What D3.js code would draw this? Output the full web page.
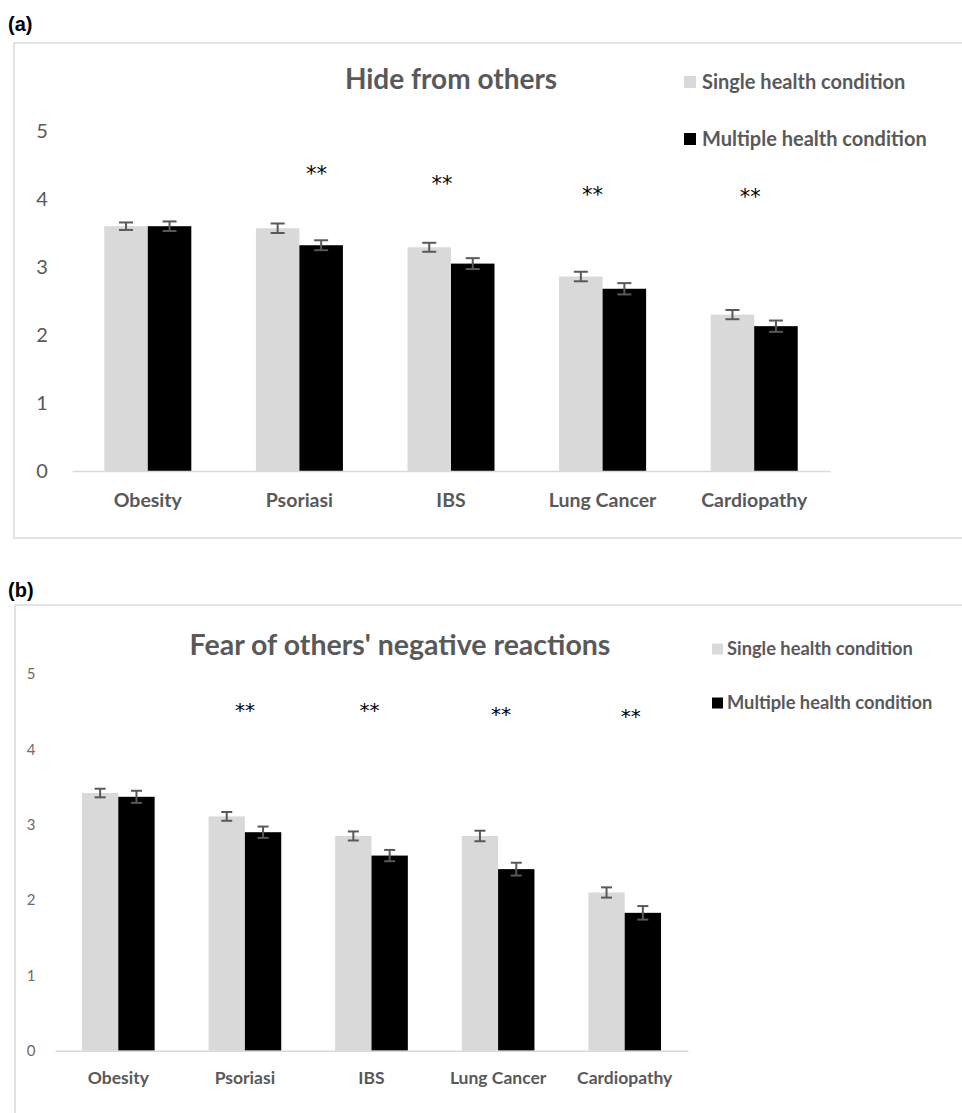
<!DOCTYPE html>
<html>
<head>
<meta charset="utf-8">
<script src="https://cdn.jsdelivr.net/npm/d3@7/dist/d3.min.js"></script>
<style>
  html, body { margin: 0; padding: 0; background: #fff; }
  svg { display: block; }
</style>
</head>
<body>
<svg id="chart" width="962" height="1113"></svg>
<script>
// ---------------- DATA ----------------
const categories = ["Obesity", "Psoriasi", "IBS", "Lung Cancer", "Cardiopathy"];
const seriesNames = ["Single health condition", "Multiple health condition"];
const yTicks = [0, 1, 2, 3, 4, 5];

// (a) Hide from others
const hideTitle = "Hide from others";
const hideSingle = [3.60, 3.57, 3.29, 2.86, 2.30];
const hideMultiple = [3.60, 3.32, 3.05, 2.68, 2.13];
const hideSingleErr = [0.055, 0.07, 0.066, 0.07, 0.068];
const hideMultipleErr = [0.07, 0.073, 0.08, 0.083, 0.083];
const hideSig = ["", "**", "**", "**", "**"];
const hideSigLevel = [0, 4.44, 4.29, 4.13, 4.10];

// (b) Fear of others' negative reactions
const fearTitle = "Fear of others' negative reactions";
const fearSingle = [3.42, 3.11, 2.85, 2.85, 2.10];
const fearMultiple = [3.37, 2.90, 2.59, 2.41, 1.83];
const fearSingleErr = [0.057, 0.058, 0.06, 0.07, 0.068];
const fearMultipleErr = [0.08, 0.075, 0.075, 0.085, 0.09];
const fearSig = ["", "**", "**", "**", "**"];
const fearSigLevel = [0, 4.57, 4.57, 4.52, 4.50];

// ---------------- STYLE / LAYOUT ----------------
const colors = ["#d9d9d9", "#000000"];
const textGray = "#595959";
const font = "Lato, 'Open Sans', sans-serif";

const panels = [
  {
    label: "(a)", labelX: 8, labelY: 31,
    frame: { x: 14, y: 43, w: 960, h: 495 },
    x0: 72, x1: 830, yTop: 131, yBottom: 471,
    tickX: 42, tickSize: 20, tickColor: "#595959",
    catSize: 19.5, catY: 500,
    title: hideTitle, titleX: 451, titleY: 89, titleSize: 28,
    legX: 684, legY: [82, 139], legSq: 12, legTextX: 702, legSize: 20,
    sigSize: 21, sigDx: [0, 17, -9, -10, -4], capW: 14,
    single: hideSingle, multiple: hideMultiple,
    singleErr: hideSingleErr, multipleErr: hideMultipleErr,
    sig: hideSig, sigLevel: hideSigLevel
  },
  {
    label: "(b)", labelX: 8, labelY: 597,
    frame: { x: 15, y: 605, w: 960, h: 600 },
    x0: 55, x1: 688, yTop: 674, yBottom: 1050.7,
    tickX: 31, tickSize: 15, tickColor: "#6b6b6b",
    catSize: 17.5, catY: 1078,
    title: fearTitle, titleX: 400, titleY: 655, titleSize: 28.5,
    legX: 712, legY: [649, 703], legSq: 11, legTextX: 727, legSize: 18.3,
    sigSize: 20, sigDx: [0, 0, -2, 3, 6], capW: 11,
    single: fearSingle, multiple: fearMultiple,
    singleErr: fearSingleErr, multipleErr: fearMultipleErr,
    sig: fearSig, sigLevel: fearSigLevel
  }
];

const svg = d3.select("#chart");

panels.forEach(p => {
  const g = svg.append("g");

  // panel label
  g.append("text")
    .attr("x", p.labelX).attr("y", p.labelY)
    .attr("font-family", "'Liberation Sans', Arial, sans-serif")
    .attr("font-weight", "bold").attr("font-size", 20)
    .attr("fill", "#000").text(p.label);

  // chart frame
  g.append("rect")
    .attr("x", p.frame.x).attr("y", p.frame.y)
    .attr("width", p.frame.w).attr("height", p.frame.h)
    .attr("fill", "none").attr("stroke", "#d9d9d9").attr("stroke-width", 1.5);

  const x = d3.scaleBand().domain(categories).range([p.x0, p.x1]).paddingInner(0.426).paddingOuter(0.213);
  const xs = d3.scaleBand().domain(seriesNames).range([0, x.bandwidth()]);
  const y = d3.scaleLinear().domain([0, 5]).range([p.yBottom, p.yTop]);

  // y tick labels (no axis line)
  const yAxis = d3.axisLeft(y).tickValues(yTicks).tickFormat(d3.format("d")).tickSize(0).tickPadding(0);
  const ya = g.append("g").attr("transform", `translate(${p.tickX},0)`).call(yAxis);
  ya.select(".domain").remove();
  ya.selectAll("text")
    .attr("text-anchor", "middle")
    .attr("font-family", font).attr("font-size", p.tickSize)
    .attr("fill", p.tickColor);

  const rows = categories.map((c, i) => ({
    cat: c, idx: i,
    vals: [
      { s: seriesNames[0], v: p.single[i], e: p.singleErr[i] },
      { s: seriesNames[1], v: p.multiple[i], e: p.multipleErr[i] }
    ],
    sig: p.sig[i], sigLevel: p.sigLevel[i]
  }));

  const groups = g.selectAll(".grp").data(rows).enter().append("g")
    .attr("transform", d => `translate(${x(d.cat)},0)`);

  groups.selectAll("rect").data(d => d.vals).enter().append("rect")
    .attr("x", d => xs(d.s))
    .attr("y", d => y(d.v))
    .attr("width", xs.bandwidth())
    .attr("height", d => y(0) - y(d.v))
    .attr("fill", (d, i) => colors[i]);

  // error bars
  const eb = groups.selectAll(".eb").data(d => d.vals).enter().append("g")
    .attr("stroke", textGray).attr("stroke-width", 2);
  eb.append("line")
    .attr("x1", d => xs(d.s) + xs.bandwidth() / 2).attr("x2", d => xs(d.s) + xs.bandwidth() / 2)
    .attr("y1", d => y(d.v + d.e)).attr("y2", d => y(d.v - d.e));
  eb.append("line")
    .attr("x1", d => xs(d.s) + xs.bandwidth() / 2 - p.capW / 2).attr("x2", d => xs(d.s) + xs.bandwidth() / 2 + p.capW / 2)
    .attr("y1", d => y(d.v + d.e)).attr("y2", d => y(d.v + d.e));
  eb.append("line")
    .attr("x1", d => xs(d.s) + xs.bandwidth() / 2 - p.capW / 2).attr("x2", d => xs(d.s) + xs.bandwidth() / 2 + p.capW / 2)
    .attr("y1", d => y(d.v - d.e)).attr("y2", d => y(d.v - d.e));

  // significance asterisks
  groups.filter(d => d.sig).append("text")
    .attr("x", d => x.bandwidth() / 2 + p.sigDx[d.idx])
    .attr("y", d => y(d.sigLevel))
    .attr("dy", "0.55em")
    .attr("text-anchor", "middle")
    .attr("font-family", "'DejaVu Sans', sans-serif").attr("font-size", p.sigSize)
    .attr("fill", "#000")
    .text(d => d.sig);

  // x axis baseline + labels
  const xAxis = d3.axisBottom(x).tickSize(0).tickPadding(0);
  const xa = g.append("g").attr("transform", `translate(0,${p.yBottom})`).call(xAxis);
  xa.select(".domain").attr("stroke", "#d9d9d9").attr("stroke-width", 1.5);
  xa.selectAll("text")
    .attr("y", p.catY - p.yBottom).attr("dy", "0.35em")
    .attr("font-family", font).attr("font-weight", "bold")
    .attr("font-size", p.catSize).attr("fill", textGray);

  // title
  g.append("text")
    .attr("x", p.titleX).attr("y", p.titleY)
    .attr("text-anchor", "middle")
    .attr("font-family", font).attr("font-weight", "bold")
    .attr("font-size", p.titleSize).attr("fill", textGray)
    .text(p.title);

  // legend
  const leg = g.selectAll(".leg").data(seriesNames).enter().append("g")
    .attr("transform", (d, i) => `translate(${p.legX},${p.legY[i]})`);
  leg.append("rect")
    .attr("x", 0).attr("y", -p.legSq / 2)
    .attr("width", p.legSq).attr("height", p.legSq)
    .attr("fill", (d, i) => colors[i]);
  leg.append("text")
    .attr("x", p.legTextX - p.legX).attr("y", 0).attr("dy", "0.35em")
    .attr("font-family", font).attr("font-weight", "bold")
    .attr("font-size", p.legSize).attr("fill", textGray)
    .text(d => d);
});
</script>
</body>
</html>
